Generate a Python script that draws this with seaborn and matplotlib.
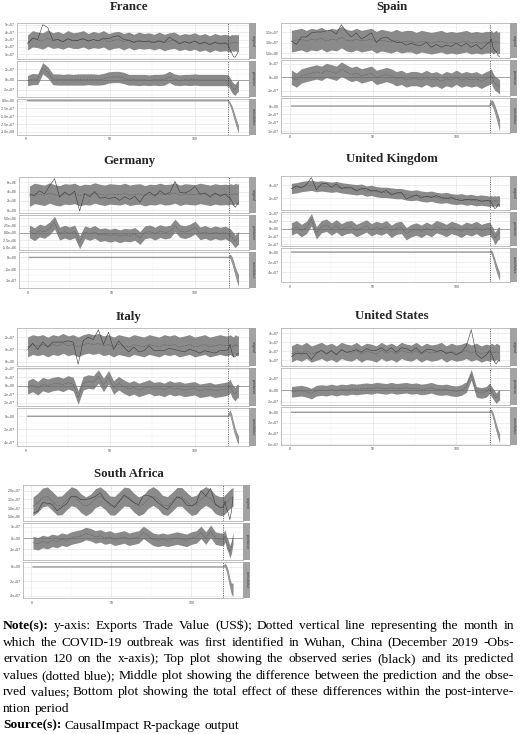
import numpy as np
import matplotlib
matplotlib.use("Agg")
import matplotlib.pyplot as plt
import seaborn as sns
from matplotlib.ticker import MaxNLocator, FixedLocator

W, H = 520, 734

# observation index (months); pre-period sampled every 3 months, post-period monthly
pre_obs = list(range(1, 119, 3))
post_obs = [120, 121, 122, 123, 124, 125, 126]
obs_index = pre_obs + post_obs
panel_names = ["original", "pointwise", "cumulative"]

# France (x1e7 US$)
fr_hi = [3.6, 4.2, 4.0, 3.9, 4.3, 3.9, 4.1, 3.8, 4.2, 3.9, 4.0, 4.2, 3.8, 4.1, 3.9, 4.2, 3.8, 4.0, 4.1, 3.8,
         4.0, 3.7, 4.0, 3.8, 3.9, 3.7, 4.0, 3.7, 3.9, 4.0, 3.6, 3.8, 3.7, 3.9, 3.6, 3.8, 3.5, 3.8, 3.6, 3.7,
         3.6, 3.5, 3.7, 3.6, 3.7, 3.6, 3.7]
fr_lo = [1.6, 2.0, 1.9, 1.7, 2.1, 1.8, 1.9, 1.7, 2.0, 1.8, 1.8, 2.0, 1.7, 1.9, 1.8, 2.0, 1.6, 1.8, 1.9, 1.6,
         1.9, 1.6, 1.8, 1.7, 1.8, 1.6, 1.8, 1.5, 1.7, 1.8, 1.5, 1.7, 1.5, 1.7, 1.4, 1.6, 1.3, 1.6, 1.4, 1.5,
         1.4, 1.3, 1.5, 1.4, 1.5, 1.4, 1.5]
fr_obs = [2.4, 3.2, 3.0, 5.0, 4.6, 2.9, 3.0, 2.7, 3.1, 2.8, 2.9, 3.1, 2.8, 3.0, 2.8, 3.2, 3.1, 3.4, 3.5, 3.0,
          2.9, 2.6, 2.8, 2.7, 2.7, 2.6, 2.8, 2.6, 3.3, 2.9, 2.4, 2.7, 2.5, 2.8, 2.4, 2.6, 2.3, 2.6, 2.4, 2.5,
          2.3, 1.6, 1.2, 0.7, 0.6, 1.0, 1.4]
fr_cum_lo = [0, -1.5, -3.0, -5.0, -7.0, -8.8, -10.5]
fr_cum_hi = [0, -0.5, -1.5, -3.0, -4.8, -6.5, -8.0]

# Spain (x1e6 US$)
es_hi = [16, 16.5, 17, 16, 17, 16.5, 17.5, 16, 17, 16.5, 18, 16.5, 16, 17, 16, 16.5, 17, 15.5, 16.5, 16,
         15.5, 16.5, 15.5, 16, 16, 15, 16, 15.5, 15, 15.5, 16, 15, 15.5, 15, 15.5, 16, 15, 15.5, 15, 15.5,
         15.5, 16, 15, 15.5, 16, 15, 15.5]
es_lo = [5.5, 6, 6.5, 5.5, 6.5, 6, 7, 5.5, 6.5, 6, 7.5, 6, 5.5, 6.5, 5.5, 6, 6.5, 5, 6, 5.5,
         5, 6, 5, 5.5, 5.5, 4.5, 5.5, 5, 4.5, 5, 5.5, 4.5, 5, 4.5, 5, 5.5, 4.5, 5, 4.5, 5,
         5, 5.5, 4.5, 5, 5.5, 4.5, 5]
es_obs = [10.8, 9.2, 12.8, 12.8, 14.8, 15.2, 15.2, 15.8, 15.8, 14.2, 18.8, 15.2, 12.8, 14.8, 11.8, 13.2, 14.8, 10.2, 12.2, 12.8,
          11.2, 10.2, 10.2, 8.8, 9.8, 8.8, 8.8, 10.2, 7.8, 9.2, 7.8, 8.8, 8.2, 9.8, 8.2, 9.8, 7.8, 9.2, 6.8, 9.2,
          10.2, 11.8, 7.8, 6.2, 5.8, 3.8, 3.2]
es_cum_lo = [0, 2, -2, -8, -15, -22, -30]
es_cum_hi = [0, 8, 6, 2, -4, -10, -16]

# Germany (x1e6 US$)
de_hi = [5.2, 5.8, 5.6, 5.4, 5.9, 5.5, 5.3, 5.7, 5.6, 5.8, 5.3, 5.6, 5.5, 5.9, 5.6, 5.4, 5.7, 5.6, 5.5, 5.8,
         5.4, 5.6, 5.7, 5.3, 5.6, 5.5, 5.8, 5.5, 5.6, 5.9, 5.4, 5.7, 5.6, 5.5, 5.8, 5.6, 5.4, 5.7, 5.5, 5.6,
         5.5, 5.7, 5.6, 5.5, 5.8, 5.6, 5.7]
de_lo = [0.8, 1.4, 1.2, 1.0, 1.5, 1.1, 0.9, 1.3, 1.2, 1.4, 0.9, 1.2, 1.1, 1.5, 1.2, 1.0, 1.3, 1.2, 1.1, 1.4,
         1.0, 1.2, 1.3, 0.9, 1.2, 1.1, 1.4, 1.1, 1.2, 1.5, 1.0, 1.3, 1.2, 1.1, 1.4, 1.2, 1.0, 1.3, 1.1, 1.2,
         1.1, 1.3, 1.2, 1.1, 1.4, 1.2, 1.3]
de_obs = [3.5, 3.1, 4.2, 3.5, 5.2, 6.8, 2.8, 3.9, 3.2, 4.1, -0.2, 3.6, 2.9, 4.0, 2.6, 2.7, 2.5, 2.8, 2.1, 2.9,
          2.3, 3.0, 1.7, 3.3, 3.9, 3.0, 4.2, 3.4, 3.8, 6.2, 3.8, 3.7, 4.2, 5.1, 3.4, 3.7, 2.8, 3.7, 3.0, 3.5,
          2.8, 2.7, 1.9, 1.1, 0.6, 1.2, 1.7]
de_cum_lo = [0, -0.5, -2.5, -5, -8, -10.5, -12.5]
de_cum_hi = [0, 1.5, 0.5, -1.5, -4, -6, -7.5]

# United Kingdom (x1e7 US$)
uk_hi = [4.3, 4.4, 4.6, 4.7, 4.8, 4.6, 4.7, 4.6, 4.5, 4.6, 4.4, 4.3, 4.2, 4.1, 4.2, 3.9, 4.0, 3.8, 3.7, 3.7,
         3.6, 3.5, 3.5, 3.3, 3.2, 3.3, 3.1, 3.0, 3.1, 2.9, 2.8, 2.9, 2.7, 2.6, 2.7, 2.5, 2.6, 2.4, 2.5, 2.4,
         2.3, 2.4, 2.3, 2.4, 2.3, 2.4, 2.3]
uk_lo = [2.7, 2.8, 3.0, 3.1, 3.2, 3.0, 3.1, 3.0, 2.9, 3.0, 2.8, 2.7, 2.6, 2.5, 2.6, 2.3, 2.4, 2.2, 2.1, 2.1,
         2.0, 1.9, 1.9, 1.7, 1.6, 1.7, 1.5, 1.4, 1.5, 1.3, 1.2, 1.3, 1.1, 1.0, 1.1, 0.9, 1.0, 0.8, 0.9, 0.8,
         0.7, 0.8, 0.7, 0.8, 0.7, 0.8, 0.7]
uk_obs = [3.5, 3.9, 3.6, 4.1, 5.2, 3.3, 4.2, 4.3, 3.7, 4.2, 3.5, 3.7, 3.7, 3.1, 3.5, 3.5, 3.1, 3.2, 2.9, 3.2,
          2.5, 2.8, 2.9, 1.9, 2.2, 2.5, 2.0, 2.3, 2.1, 2.4, 2.1, 1.9, 2.1, 1.8, 1.6, 1.8, 1.7, 1.8, 1.5, 1.6,
          1.6, 1.3, 0.9, 0.4, 0.5, 1.0, 1.0]
uk_cum_lo = [0, -0.3, -1.2, -2.5, -3.8, -4.8, -5.6]
uk_cum_hi = [0, 0.5, -0.2, -1.2, -2.3, -3.2, -4.0]

# Italy (x1e7 US$)
it_hi = [2.0, 2.2, 2.1, 2.2, 2.0, 2.2, 2.1, 2.3, 2.1, 2.2, 2.0, 2.2, 2.3, 2.2, 2.3, 2.1, 2.2, 2.0, 2.2, 2.1,
         2.0, 2.2, 2.1, 2.0, 2.2, 2.1, 2.0, 2.2, 2.1, 2.2, 2.0, 2.1, 2.2, 2.0, 2.1, 2.2, 2.0, 2.1, 2.2, 2.1,
         2.1, 2.2, 2.1, 2.0, 2.2, 2.1, 2.1]
it_lo = [0.4, 0.6, 0.5, 0.6, 0.4, 0.6, 0.5, 0.7, 0.5, 0.6, 0.4, 0.6, 0.7, 0.6, 0.7, 0.5, 0.6, 0.4, 0.6, 0.5,
         0.4, 0.6, 0.5, 0.4, 0.6, 0.5, 0.4, 0.6, 0.5, 0.6, 0.4, 0.5, 0.6, 0.4, 0.5, 0.6, 0.4, 0.5, 0.6, 0.5,
         0.5, 0.6, 0.5, 0.4, 0.6, 0.5, 0.5]
it_obs = [1.0, 1.5, 1.0, 1.6, 1.2, 1.6, 1.6, 1.6, 1.7, 1.6, -0.2, 1.7, 2.0, 1.8, 2.6, 1.4, 2.4, 1.0, 1.7, 1.2,
          0.8, 1.2, 0.8, 0.9, 1.3, 0.9, 0.9, 0.9, 1.1, 1.0, 0.9, 0.8, 1.0, 0.9, 0.7, 0.9, 0.8, 0.7, 0.9, 0.9,
          1.0, 1.4, 0.8, 0.4, 0.4, 0.6, 0.7]
it_cum_lo = [0, 0.2, -0.8, -2.0, -3.0, -3.8, -4.3]
it_cum_hi = [0, 1.0, 0.3, -0.8, -1.8, -2.5, -3.0]

# United States (x1e7 US$)
us_hi = [2.6, 2.9, 2.7, 3.0, 2.6, 2.8, 3.0, 2.7, 2.9, 2.6, 3.0, 2.8, 2.7, 3.0, 2.6, 2.9, 2.8, 2.6, 3.0, 2.7,
         2.9, 2.6, 3.0, 2.8, 2.7, 3.0, 2.6, 2.9, 2.7, 2.8, 3.0, 2.6, 2.9, 2.7, 2.8, 3.0, 2.7, 2.9, 2.6, 2.8,
         2.7, 2.9, 2.8, 2.7, 2.9, 2.8, 2.7]
us_lo = [0.8, 1.1, 0.9, 1.2, 0.8, 1.0, 1.2, 0.9, 1.1, 0.8, 1.2, 1.0, 0.9, 1.2, 0.8, 1.1, 1.0, 0.8, 1.2, 0.9,
         1.1, 0.8, 1.2, 1.0, 0.9, 1.2, 0.8, 1.1, 0.9, 1.0, 1.2, 0.8, 1.1, 0.9, 1.0, 1.2, 0.9, 1.1, 0.8, 1.0,
         0.9, 1.1, 1.0, 0.9, 1.1, 1.0, 0.9]
us_obs = [1.4, 1.8, 1.7, 1.8, 1.1, 1.8, 2.1, 1.7, 2.1, 1.6, 2.2, 1.9, 2.0, 2.2, 1.9, 2.3, 2.1, 2.1, 2.4, 2.0,
          2.4, 1.9, 2.4, 2.3, 2.0, 2.4, 1.8, 2.2, 2.2, 2.0, 2.1, 1.8, 1.9, 1.6, 1.9, 2.6, 4.4, 1.7, 1.2, 1.6,
          2.1, 1.8, 1.3, 0.8, 0.6, 0.9, 1.0]
us_cum_lo = [0, 0, -1.0, -2.3, -3.6, -4.7, -5.8]
us_cum_hi = [0, 0.6, 0, -1.0, -2.2, -3.2, -4.0]

# South Africa (x1e7 US$)
za_hi = [1.65, 1.86, 2.17, 2.23, 1.97, 1.69, 1.71, 2.00, 2.24, 2.14, 1.83, 1.65, 1.81, 2.13, 2.24, 2.02, 1.71, 1.68, 1.95, 2.22,
         2.18, 1.87, 1.65, 1.77, 2.09, 2.25, 2.07, 1.74, 1.67, 1.92, 2.20, 2.20, 1.92, 1.67, 1.74, 2.07, 2.25, 2.10, 1.77, 1.66,
         1.68, 1.77, 1.87, 1.97, 2.07, 2.15, 2.20]
za_lo = [0.55, 0.76, 1.07, 1.13, 0.87, 0.59, 0.61, 0.90, 1.14, 1.04, 0.73, 0.55, 0.71, 1.03, 1.14, 0.92, 0.61, 0.58, 0.85, 1.12,
         1.08, 0.77, 0.55, 0.67, 0.99, 1.15, 0.97, 0.64, 0.57, 0.82, 1.10, 1.10, 0.82, 0.57, 0.64, 0.97, 1.15, 1.00, 0.67, 0.56,
         0.58, 0.67, 0.77, 0.87, 0.97, 1.05, 1.10]
za_obs = [0.70, 0.81, 1.32, 1.28, 1.22, 0.84, 1.06, 1.25, 1.69, 1.69, 1.48, 1.50, 1.56, 1.68, 1.89, 1.47, 1.26, 1.03, 1.40, 1.77,
          1.53, 1.32, 1.20, 1.72, 1.74, 1.60, 1.32, 1.09, 0.92, 1.27, 1.65, 1.55, 1.17, 1.12, 1.29, 2.02, 1.70, 2.15, 1.22, 1.01,
          1.03, 1.42, 0.92, 0.72, 0.32, 0.80, 1.65]
za_cum_lo = [0, 0.0, -0.6, -1.5, -2.9, -3.8, -4.1]
za_cum_hi = [0, 0.5, 0.2, -0.5, -1.6, -2.3, -2.2]

countries = [
    ("France", 1e7, fr_lo, fr_hi, fr_obs, fr_cum_lo, fr_cum_hi, (17, 249, 23, 135), 7),
    ("Spain", 1e6, es_lo, es_hi, es_obs, es_cum_lo, es_cum_hi, (281, 510, 23, 133), 7),
    ("Germany", 1e6, de_lo, de_hi, de_obs, de_cum_lo, de_cum_hi, (19, 249, 177, 288), 161),
    ("United Kingdom", 1e7, uk_lo, uk_hi, uk_obs, uk_cum_lo, uk_cum_hi, (281, 510, 176, 282), 159),
    ("Italy", 1e7, it_lo, it_hi, it_obs, it_cum_lo, it_cum_hi, (17, 249, 328, 446), 317),
    ("United States", 1e7, us_lo, us_hi, us_obs, us_cum_lo, us_cum_hi, (281, 510, 328, 445), 316),
    ("South Africa", 1e7, za_lo, za_hi, za_obs, za_cum_lo, za_cum_hi, (23, 243, 485, 598), 474),
]

note_lines = [
    ([("Note(s):", True), ("y-axis: Exports Trade Value (US$); Dotted vertical line representing the month  in", False)], True),
    ([("which the COVID-19 outbreak was first identified in Wuhan, China (December 2019 -Obs-", False)], True),
    ([("ervation 120 on the x-axis); Top plot showing the observed series (black) and its predicted", False)], True),
    ([("values (dotted blue); Middle plot showing the difference between the prediction and the obse-", False)], True),
    ([("rved values; Bottom plot showing the total effect of these differences within the post-interve-", False)], True),
    ([("ntion period", False)], False),
    ([("Source(s):", True), ("CausalImpact R-package output", False)], False),
]

sns.set_theme(style="whitegrid")
plt.rcParams["font.family"] = ["Liberation Sans", "DejaVu Sans"]

BAND = "#8a8a8a"
fig = plt.figure(figsize=(W / 100, H / 100), dpi=100)
fig.patch.set_facecolor("white")


def sci_labels(vals):
    for d in range(4):
        labs = [f"{(0.0 if abs(v) < 1e-12 else v):.{d}e}" for v in vals]
        if all(abs(float(l) - v) <= 1e-6 * max(1.0, abs(v)) for l, v in zip(labs, vals)):
            return labs
    return labs


def style_axis(ax, bottom):
    ax.set_facecolor("white")
    ax.set_xlim(-5.25, 132.25)
    ax.set_xticks([0, 50, 100])
    ax.xaxis.set_minor_locator(FixedLocator([25, 75, 125]))
    ax.margins(y=0.05)
    ax.autoscale_view()
    lo, hi = ax.get_ylim()
    ticks = [t for t in MaxNLocator(nbins=5, steps=[1, 2, 2.5, 5, 10]).tick_values(lo, hi) if lo <= t <= hi]
    ax.set_yticks(ticks, labels=sci_labels(ticks))
    step = ticks[1] - ticks[0]
    minors = [t + step / 2 for t in [ticks[0] - step] + ticks if lo <= t + step / 2 <= hi]
    ax.yaxis.set_minor_locator(FixedLocator(minors))
    ax.set_ylim(lo, hi)
    ax.grid(True, which="major", color="#e3e3e3", lw=0.45)
    ax.grid(True, which="minor", color="#f0f0f0", lw=0.3)
    ax.set_axisbelow(True)
    for s in ax.spines.values():
        s.set_color("#b5b5b5")
        s.set_linewidth(0.6)
    ax.tick_params(which="major", length=1.2, width=0.35, color="#666666", pad=0.6,
                   labelsize=2.5, labelcolor="#4d4d4d")
    ax.tick_params(which="minor", length=0)
    ax.tick_params(axis="x", labelbottom=bottom)
    ax.set_xlabel("")
    ax.set_ylabel("")
    ax.axvline(120, color="#444444", lw=0.55, ls=(0, (1.5, 1.5)))


def draw_country(name, unit, lo, hi, obs, cum_lo, cum_hi, box, title_y):
    L, R, T, B = box
    x = np.array(obs_index)
    lo = np.array(lo) * unit
    hi = np.array(hi) * unit
    obs = np.array(obs) * unit
    mid = (lo + hi) / 2
    n_pre = len(pre_obs)
    c_lo = np.r_[np.zeros(n_pre), np.array(cum_lo) * unit]
    c_hi = np.r_[np.zeros(n_pre), np.array(cum_hi) * unit]
    gap = 2
    h = (B - T - 2 * gap) / 3
    axes = []
    for i in range(3):
        top = T + i * (h + gap)
        ax = fig.add_axes([L / W, 1 - (top + h) / H, (R - L) / W, h / H])
        strip = fig.add_axes([R / W, 1 - (top + h) / H, 7 / W, h / H])
        strip.set_facecolor("#a3a3a3")
        strip.set_xticks([])
        strip.set_yticks([])
        strip.grid(False)
        for s in strip.spines.values():
            s.set_visible(False)
        strip.text(0.5, 0.5, panel_names[i], rotation=270, ha="center", va="center",
                   fontsize=2.6, color="#3a3a3a", transform=strip.transAxes)
        axes.append(ax)
    ax0, ax1, ax2 = axes

    ax0.fill_between(x, lo, hi, color=BAND, lw=0)
    sns.lineplot(x=x, y=mid, ax=ax0, color="#606060", lw=0.4, ls="--", legend=False)
    sns.lineplot(x=x, y=obs, ax=ax0, color="#3a3a3a", lw=0.4, legend=False)

    ax1.fill_between(x, obs - hi, obs - lo, color=BAND, lw=0)
    ax1.axhline(0, color="#6a6a6a", lw=0.4)
    sns.lineplot(x=x, y=obs - mid, ax=ax1, color="#606060", lw=0.4, ls="--", legend=False)

    ax2.fill_between(x, c_lo, c_hi, color=BAND, lw=0)
    sns.lineplot(x=x, y=(c_lo + c_hi) / 2, ax=ax2, color="#9a9a9a", lw=1.0, legend=False)

    for i, ax in enumerate(axes):
        style_axis(ax, bottom=(i == 2))

    fig.text((L - 15 + R + 7) / 2 / W, 1 - title_y / H, name, ha="center", va="center",
             fontsize=9.3, fontweight="bold", family=["Liberation Serif", "DejaVu Serif"])


for c in countries:
    draw_country(*c)

# justified note text under the panels
renderer = fig.canvas.get_renderer()
FS = 9.7
x_left, x_right = 3, 514
y0, dy = 626, 16.6
for k, (parts, justify) in enumerate(note_lines):
    y = y0 + k * dy
    words = []
    for txt, bold in parts:
        for w in txt.split():
            words.append((w, bold))
    objs = [fig.text(0, 1 - y / H, w, fontsize=FS, fontweight="bold" if b else "normal",
                     family=["Liberation Serif", "DejaVu Serif"], color="black", ha="left", va="center")
            for w, b in words]
    widths = [t.get_window_extent(renderer).width for t in objs]
    if justify and len(objs) > 1:
        space = (x_right - x_left - sum(widths)) / (len(objs) - 1)
    else:
        space = FS * 100 / 72 * 0.25
    xp = x_left
    for t, wd in zip(objs, widths):
        t.set_x(xp / W)
        xp += wd + space

fig.savefig("out.png", dpi=100, facecolor="white")
